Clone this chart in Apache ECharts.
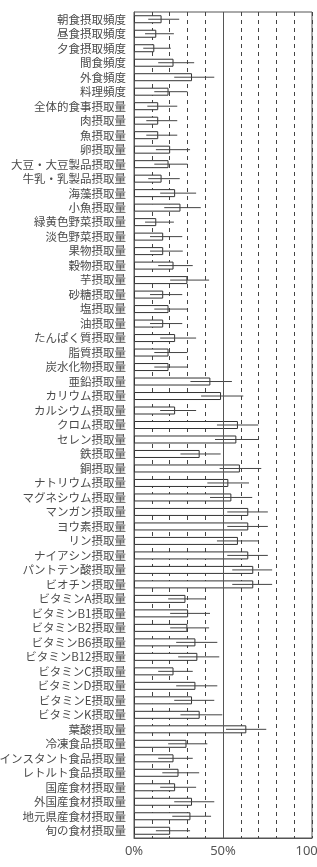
<!DOCTYPE html>
<html>
<head>
<meta charset="utf-8">
<script src="https://cdn.jsdelivr.net/npm/echarts@6/dist/echarts.min.js"></script>
<style>
  html, body { margin: 0; padding: 0; background: #fff; }
  #chart { width: 317px; height: 867px; }
</style>
</head>
<body>
<div id="chart"></div>
<script>
// 項目（上から順）
var categories = [
  '朝食摂取頻度', '昼食摂取頻度', '夕食摂取頻度', '間食頻度', '外食頻度', '料理頻度',
  '全体的食事摂取量', '肉摂取量', '魚摂取量', '卵摂取量', '大豆・大豆製品摂取量',
  '牛乳・乳製品摂取量', '海藻摂取量', '小魚摂取量', '緑黄色野菜摂取量', '淡色野菜摂取量',
  '果物摂取量', '穀物摂取量', '芋摂取量', '砂糖摂取量', '塩摂取量', '油摂取量',
  'たんぱく質摂取量', '脂質摂取量', '炭水化物摂取量', '亜鉛摂取量', 'カリウム摂取量',
  'カルシウム摂取量', 'クロム摂取量', 'セレン摂取量', '鉄摂取量', '銅摂取量',
  'ナトリウム摂取量', 'マグネシウム摂取量', 'マンガン摂取量', 'ヨウ素摂取量', 'リン摂取量',
  'ナイアシン摂取量', 'パントテン酸摂取量', 'ビオチン摂取量', 'ビタミンA摂取量',
  'ビタミンB1摂取量', 'ビタミンB2摂取量', 'ビタミンB6摂取量', 'ビタミンB12摂取量',
  'ビタミンC摂取量', 'ビタミンD摂取量', 'ビタミンE摂取量', 'ビタミンK摂取量', '葉酸摂取量',
  '冷凍食品摂取量', 'インスタント食品摂取量', 'レトルト食品摂取量', '国産食材摂取量',
  '外国産食材摂取量', '地元県産食材摂取量', '旬の食材摂取量'
];

// 平均値 (%)
var means = [
  15.5, 12.5, 11.4, 22.2, 32.6, 19.4, 13.6, 13.6, 13.6, 20.3, 19.4,
  15.5, 23.1, 26.1, 12.5, 16.4, 16.4, 22.2, 30.0, 16.4, 19.4, 16.4,
  23.1, 19.4, 19.4, 42.9, 48.9, 23.1, 58.4, 57.5, 36.9, 59.5,
  53.0, 54.7, 64.2, 64.2, 58.4, 64.2, 67.0, 67.0, 28.9,
  30.4, 30.0, 34.5, 35.6, 22.2, 34.5, 32.6, 36.9, 63.1,
  29.5, 22.2, 25.0, 23.1, 32.6, 31.7, 20.3
];

// 誤差範囲 下限・上限 (%)
var errLow = [
  8.0, 6.2, 5.2, 13.6, 22.6, 11.4, 7.5, 6.9, 6.9, 12.3, 11.4,
  8.0, 14.7, 17.0, 6.2, 9.0, 9.0, 13.6, 20.3, 9.0, 11.4, 9.0,
  14.7, 11.4, 11.4, 31.7, 37.7, 14.7, 46.6, 45.5, 26.1, 48.1,
  41.2, 42.7, 52.4, 52.4, 46.6, 52.4, 55.2, 55.2, 19.2,
  20.3, 20.3, 23.7, 24.8, 13.6, 23.7, 22.6, 26.1, 51.7,
  19.2, 13.6, 15.9, 14.7, 22.6, 21.5, 12.3
];
var errHigh = [
  25.4, 22.4, 20.7, 33.8, 45.1, 30.0, 24.3, 24.3, 24.3, 31.5, 30.0,
  25.7, 34.9, 37.5, 22.4, 27.1, 27.4, 33.0, 42.2, 27.1, 30.0, 27.1,
  34.9, 30.0, 30.0, 55.0, 61.4, 34.9, 69.8, 69.8, 48.7, 71.5,
  64.6, 66.4, 75.2, 75.2, 69.8, 75.2, 77.6, 77.6, 40.1,
  42.7, 42.2, 46.8, 47.9, 33.0, 46.8, 45.1, 49.6, 74.3,
  41.2, 33.0, 36.6, 34.9, 45.1, 43.3, 31.5
];

var xTicks = [0, 50, 100];

var errData = categories.map(function (c, i) { return [i, errLow[i], errHigh[i]]; });

var chart = echarts.init(document.getElementById('chart'));
chart.setOption({
  animation: false,
  grid: {
    left: 134, right: 5, top: 12, bottom: 29,
    outerBoundsMode: 'none', containLabel: false,
    show: true, borderColor: '#555', borderWidth: 1
  },
  xAxis: {
    type: 'value',
    min: 0, max: 100, interval: 10,
    axisLine: { show: true, lineStyle: { color: '#555' } },
    axisTick: { show: false },
    axisLabel: {
      color: '#555', fontSize: 13, fontFamily: 'Noto Sans', margin: 7,
      alignMinLabel: 'center', alignMaxLabel: 'center',
      formatter: function (v) { return xTicks.indexOf(v) >= 0 ? v + '%' : ''; }
    },
    splitLine: { show: true, lineStyle: { color: '#444', type: [4, 4], width: 1 } }
  },
  yAxis: {
    type: 'category',
    data: categories,
    inverse: true,
    axisLine: { show: true, lineStyle: { color: '#555' } },
    axisTick: { show: false },
    axisLabel: {
      color: '#4a4a4a', fontSize: 11.5, fontFamily: 'Noto Sans CJK JP', margin: 8, interval: 0
    }
  },
  series: [
    {
      type: 'bar',
      data: means,
      barWidth: 8,
      itemStyle: { color: '#fff', borderColor: '#333', borderWidth: 1 },
      markLine: {
        silent: true, symbol: 'none', label: { show: false },
        lineStyle: { color: '#555', type: 'solid', width: 1 },
        data: [{ xAxis: 50 }]
      },
      z: 2
    },
    {
      type: 'custom',
      data: errData,
      z: 3,
      renderItem: function (params, api) {
        var y = api.value(0);
        var p1 = api.coord([api.value(1), y]);
        var p2 = api.coord([api.value(2), y]);
        return {
          type: 'line',
          shape: { x1: p1[0], y1: p1[1], x2: p2[0], y2: p2[1] },
          style: { stroke: '#444', lineWidth: 1 }
        };
      }
    }
  ]
});
</script>
</body>
</html>
